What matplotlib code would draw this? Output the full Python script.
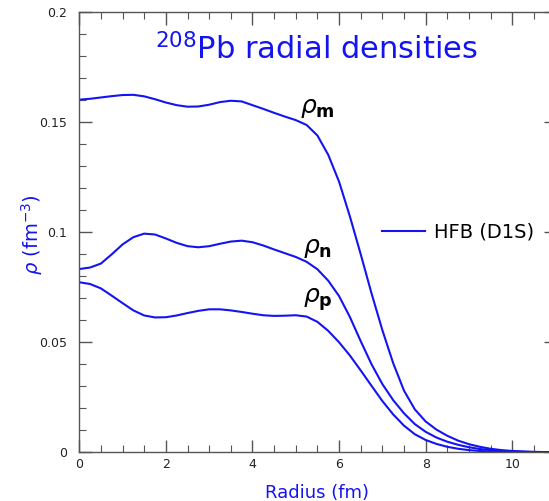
# 208Pb radial densities from HFB (D1S): matter, neutron and proton profiles.

import matplotlib
matplotlib.use('Agg')
import matplotlib.pyplot as plt
from matplotlib.ticker import MultipleLocator

# Radius (fm) and densities (fm^-3)
radius = [0.0, 0.25, 0.5, 0.75, 1.0, 1.25, 1.5, 1.75, 2.0, 2.25, 2.5, 2.75,
          3.0, 3.25, 3.5, 3.75, 4.0, 4.25, 4.5, 4.75, 5.0, 5.25, 5.5, 5.75,
          6.0, 6.25, 6.5, 6.75, 7.0, 7.25, 7.5, 7.75, 8.0, 8.25, 8.5, 8.75,
          9.0, 9.25, 9.5, 9.75, 10.0, 10.25, 10.5, 10.75, 11.0]

rho_m = [0.1603, 0.1607, 0.1613, 0.1619, 0.1624, 0.1625, 0.1618, 0.1605, 0.1590,
         0.1578, 0.1571, 0.1572, 0.1580, 0.1592, 0.1598, 0.1595, 0.1578, 0.1561,
         0.1543, 0.1526, 0.1510, 0.1488, 0.1440, 0.1352, 0.1230, 0.1072, 0.0900,
         0.0722, 0.0555, 0.0405, 0.0280, 0.0195, 0.0140, 0.0103, 0.0075, 0.0053,
         0.0037, 0.0025, 0.0016, 0.0010, 0.0006, 0.0004, 0.0002, 0.0001, 0.0001]

rho_n = [0.0833, 0.0840, 0.0858, 0.0900, 0.0945, 0.0978, 0.0994, 0.0990, 0.0972,
         0.0952, 0.0937, 0.0932, 0.0937, 0.0948, 0.0958, 0.0962, 0.0955, 0.0940,
         0.0922, 0.0905, 0.0888, 0.0866, 0.0832, 0.0780, 0.0710, 0.0615, 0.0505,
         0.0400, 0.0310, 0.0237, 0.0177, 0.0128, 0.0093, 0.0067, 0.0048, 0.0034,
         0.0023, 0.0015, 0.0010, 0.0006, 0.0004, 0.0002, 0.0001, 0.0001, 0.0000]

rho_p = [0.0773, 0.0765, 0.0745, 0.0712, 0.0678, 0.0645, 0.0622, 0.0613, 0.0614,
         0.0622, 0.0633, 0.0643, 0.0650, 0.0650, 0.0645, 0.0638, 0.0630, 0.0623,
         0.0620, 0.0621, 0.0623, 0.0617, 0.0593, 0.0552, 0.0500, 0.0440, 0.0372,
         0.0302, 0.0233, 0.0172, 0.0121, 0.0082, 0.0056, 0.0038, 0.0025, 0.0016,
         0.0010, 0.0006, 0.0004, 0.0002, 0.0001, 0.0001, 0.0000, 0.0000, 0.0000]

blue = '#1414f0'
grey = '#555555'

fig = plt.figure(figsize=(5.49, 5.01), dpi=100)
ax = fig.add_axes([0.1444, 0.0972, 0.8676, 0.8782])

line, = ax.plot(radius, rho_m, color=blue, lw=1.5, solid_joinstyle='round')
ax.plot(radius, rho_n, color=blue, lw=1.5, solid_joinstyle='round')
ax.plot(radius, rho_p, color=blue, lw=1.5, solid_joinstyle='round')

ax.set_xlim(0, 11)
ax.set_ylim(0, 0.2)

# Axis styling: inward ticks on all sides, grey frame
for s in ax.spines.values():
    s.set_color(grey)
    s.set_linewidth(1.0)
ax.xaxis.set_major_locator(MultipleLocator(2))
ax.xaxis.set_minor_locator(MultipleLocator(0.5))
ax.yaxis.set_major_locator(MultipleLocator(0.05))
ax.yaxis.set_minor_locator(MultipleLocator(0.01))
ax.tick_params(which='both', direction='in', top=True, right=True, color=grey,
               labelcolor='#222222', labelsize=9)
ax.tick_params(which='major', length=9, width=1.0)
ax.tick_params(which='minor', length=5, width=0.8)
ax.tick_params(axis='x', pad=4)
ax.tick_params(axis='y', pad=9)
ax.set_yticks([0, 0.05, 0.1, 0.15, 0.2])
ax.set_yticklabels(['0', '0.05', '0.1', '0.15', '0.2'])

# Labels and title
ax.set_xlabel('Radius (fm)', color=blue, fontsize=13)
ax.xaxis.set_label_coords(0.499, -0.072)
ax.set_ylabel(r'$\rho$ (fm$^{-3}$)', color=blue, fontsize=14)
ax.yaxis.set_label_coords(-0.072, 0.496)
ax.text(0.498, 0.892, r'$^{208}$Pb radial densities', transform=ax.transAxes,
        ha='center', va='baseline', color=blue, fontsize=22)

# Curve annotations
ax.text(5.10, 0.1565, r'$\rho_{\mathbf{m}}$', fontsize=18, color='black', va='center')
ax.text(5.17, 0.0929, r'$\rho_{\mathbf{n}}$', fontsize=18, color='black', va='center')
ax.text(5.17, 0.0693, r'$\rho_{\mathbf{p}}$', fontsize=18, color='black', va='center')

ax.legend([line], ['HFB (D1S)'], loc='center left', bbox_to_anchor=(0.6355, 0.5007),
          frameon=False, fontsize=14, handlelength=2.2, handletextpad=0.5,
          borderpad=0, borderaxespad=0)

fig.savefig('out.png', dpi=100)
